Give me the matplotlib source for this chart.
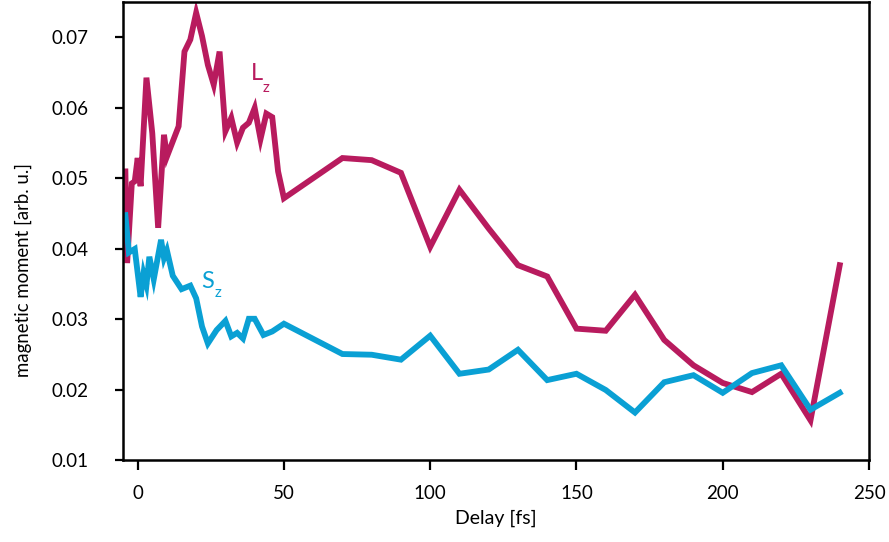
import numpy as np
import matplotlib
matplotlib.use('Agg')
import matplotlib.pyplot as plt

plt.rcParams['font.family'] = ['Lato', 'DejaVu Sans']

# delay [fs] and magnetic moments
t_lz = [-4.2, -3.6, -2, -1, 0, 1, 3, 5, 7, 9, 10, 14, 16, 18, 20, 22, 24, 26, 28,
        30, 32, 34, 36, 38, 40, 42, 44, 46, 48, 50, 70, 80, 90, 100, 110, 120,
        130, 140, 150, 160, 170, 180, 190, 200, 210, 220, 230, 240]
lz = [0.0510, 0.0380, 0.0493, 0.0496, 0.0529, 0.0489, 0.0643, 0.0564, 0.0430,
      0.0562, 0.0531, 0.0574, 0.0680, 0.0697, 0.0735, 0.0702, 0.0661, 0.0633,
      0.0680, 0.0567, 0.0586, 0.0551, 0.0572, 0.0579, 0.0600, 0.0556, 0.0592,
      0.0587, 0.0510, 0.0472, 0.0529, 0.0526, 0.0508, 0.0403, 0.0484, 0.0429,
      0.0377, 0.0361, 0.0287, 0.0284, 0.0335, 0.0271, 0.0235, 0.0210, 0.0197,
      0.0223, 0.0157, 0.0377]

t_sz = [-4.2, -3, -1, 1, 2, 3, 4, 5.5, 8, 9, 10, 12, 15, 18, 20, 22, 24, 27,
        30, 32, 34, 36, 38, 40, 43, 46, 50, 70, 80, 90, 100, 110, 120, 130,
        140, 150, 160, 170, 180, 190, 200, 210, 220, 230, 240]
sz = [0.0448, 0.0395, 0.0400, 0.0332, 0.0365, 0.0349, 0.0389, 0.0357, 0.0413,
      0.0387, 0.0398, 0.0362, 0.0343, 0.0348, 0.0330, 0.0290, 0.0266, 0.0285,
      0.0298, 0.0276, 0.0281, 0.0273, 0.0301, 0.0301, 0.0278, 0.0283, 0.0294,
      0.0251, 0.0250, 0.0243, 0.0277, 0.0223, 0.0229, 0.0257, 0.0214, 0.0223,
      0.0200, 0.0168, 0.0211, 0.0221, 0.0196, 0.0224, 0.0235, 0.0172, 0.0196]

xticks = [0, 50, 100, 150, 200, 250]
yticks = [0.01, 0.02, 0.03, 0.04, 0.05, 0.06, 0.07]

c_lz = '#b81b5e'
c_sz = '#0aa0d4'

fig = plt.figure(figsize=(8.89, 5.42), dpi=100)
ax = fig.add_axes([0.1384, 0.1504, 0.8391, 0.8468])

ax.plot(t_lz, lz, color=c_lz, lw=4.2, solid_joinstyle='miter')
ax.plot(t_sz, sz, color=c_sz, lw=4.2, solid_joinstyle='miter')

# series labels
ax.text(38.6, 0.0640, 'L', color=c_lz, fontsize=17)
ax.text(42.7, 0.0622, 'z', color=c_lz, fontsize=11)
ax.text(21.8, 0.0344, 'S', color=c_sz, fontsize=17)
ax.text(26.4, 0.0332, 'z', color=c_sz, fontsize=11)

ax.set_xlim(-5, 250)
ax.set_ylim(0.01, 0.0751)
ax.set_xticks(xticks)
ax.set_yticks(yticks)
ax.set_yticklabels(['%.2f' % v for v in yticks])

for s in ax.spines.values():
    s.set_linewidth(1.8)
ax.tick_params(axis='both', direction='out', width=1.6, labelsize=13.5)
ax.tick_params(axis='y', length=6, pad=19)
ax.tick_params(axis='x', length=7, pad=11)

ax.set_xlabel('Delay [fs]', fontsize=14, labelpad=5)
ax.set_ylabel('magnetic moment [arb. u.]', fontsize=13.4)
ax.yaxis.set_label_coords(-0.122, 0.415)

fig.savefig('out.png', dpi=100)
